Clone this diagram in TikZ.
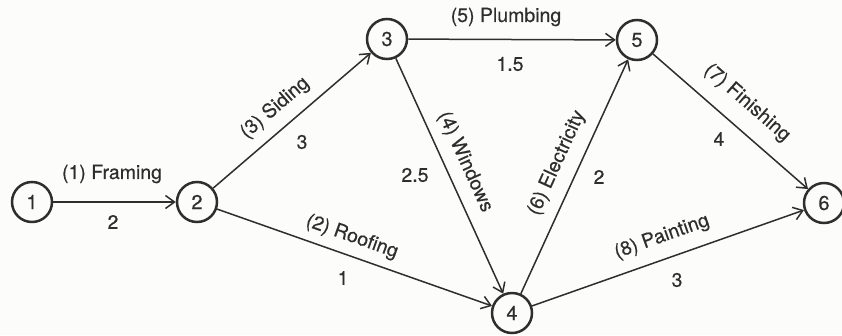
\documentclass[tikz,border=0pt]{standalone}
\usepackage{fontspec}
\setmainfont{TeX Gyre Heros}[FakeBold=0.4]
\usetikzlibrary{arrows.meta}
\definecolor{ink}{HTML}{2E2E2E}
\definecolor{paper}{HTML}{FCFCFA}
\begin{document}
\begin{tikzpicture}[x=1pt,y=-1pt,
  ev/.style={circle,draw=ink,line width=2.5pt,minimum size=40pt,inner sep=0pt,font=\fontsize{20}{20}\selectfont,text=ink},
  act/.style={draw=ink,line width=1.5pt,-{Straight Barb[length=9pt,width=13pt,line width=1.5pt]}},
  lbl/.style={font=\fontsize{19.5}{19.5}\selectfont,text=ink,inner sep=0pt},
]
\fill[paper] (0,0) rectangle (842,335);
\useasboundingbox (0,0) rectangle (842,335);

\node[ev] (n1) at (32,202) {1};
\node[ev] (n2) at (197,202) {2};
\node[ev] (n3) at (387,39) {3};
\node[ev] (n4) at (512,313) {4};
\node[ev] (n5) at (637,40) {5};
\node[ev] (n6) at (824,203) {6};

\draw[act] (n1) -- (n2);
\draw[act] (n2) -- (n3);
\draw[act] (n2) -- (n4);
\draw[act] (n3) -- (n5);
\draw[act] (n3) -- (n4);
\draw[act] (n4) -- (n5);
\draw[act] (n5) -- (n6);
\draw[act] (n4) -- (n6);

\node[lbl] (l1) at (112,174) {(1) Framing};
\node[lbl] (d1) at (113,222) {2};
\node[lbl,rotate=40.6] (l3) at (275,108) {(3) Siding};
\node[lbl] (d3) at (302,142) {3};
\node[lbl,rotate=-19.6] (l2) at (352,237) {(2) Roofing};
\node[lbl] (d2) at (343,278) {1};
\node[lbl] (l5) at (506,17) {(5) Plumbing};
\node[lbl] (d5) at (510,64) {1.5};
\node[lbl,rotate=-65.6] (l4) at (465,162) {(4) Windows};
\node[lbl] (d4) at (415,175) {2.5};
\node[lbl,rotate=65.5] (l6) at (557,163) {(6) Electricity};
\node[lbl] (d6) at (599,177) {2};
\node[lbl,rotate=-41.1] (l7) at (747,103) {(7) Finishing};
\node[lbl] (d7) at (719,139) {4};
\node[lbl,rotate=19.6] (l8) at (662,237) {(8) Painting};
\node[lbl] (d8) at (677,280) {3};
\end{tikzpicture}
\end{document}
